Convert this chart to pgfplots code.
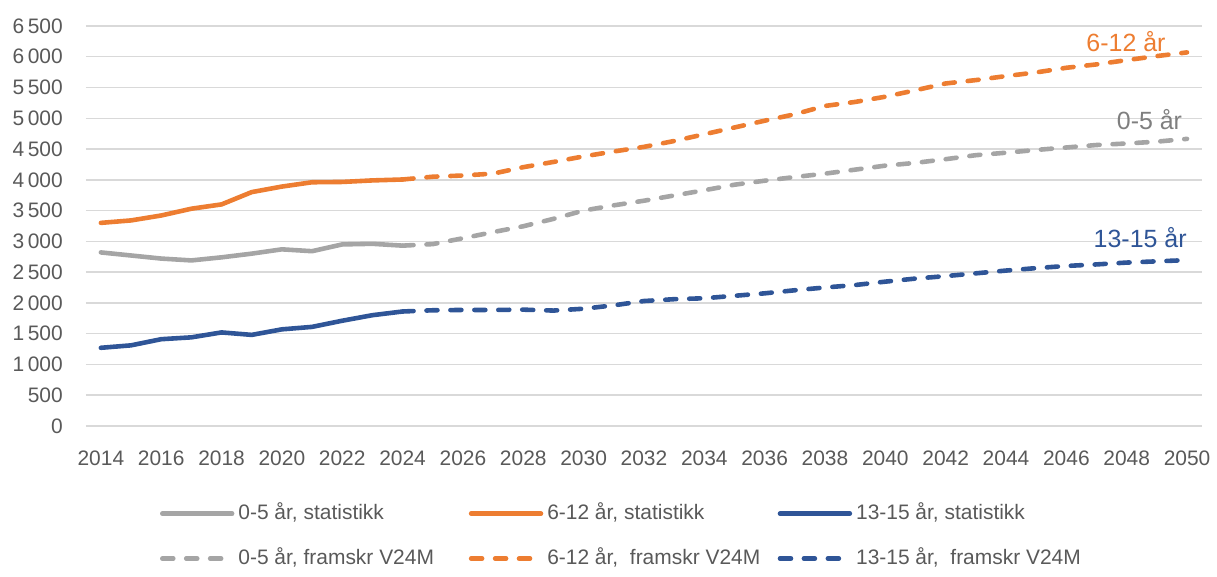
\documentclass[border=0pt]{standalone}
\usepackage{fontspec}
\setmainfont{Liberation Sans}
\usepackage{pgfplots}
\pgfplotsset{compat=1.18}
\definecolor{cgray}{HTML}{A5A5A5}
\definecolor{corange}{HTML}{ED7D31}
\definecolor{cblue}{HTML}{2F5597}
\definecolor{ctext}{HTML}{595959}
\definecolor{cgrid}{HTML}{D9D9D9}
\definecolor{clabgray}{HTML}{7F7F7F}
\begin{document}
\begin{tikzpicture}
\begin{axis}[
  scale only axis,
  width=559.5pt, height=200.5pt,
  xmin=2013.5, xmax=2050.5,
  ymin=0, ymax=6500,
  xtick={2014,2016,...,2050},
  ytick={0,500,...,6500},
  ymajorgrids,
  grid style={cgrid, line width=0.75pt},
  axis line style={draw=none},
  tick style={draw=none},
  /pgf/number format/assume math mode=true,
  ticklabel style={font=\fontsize{10.5}{12.6}\selectfont, text=ctext},
  xticklabel style={/pgf/number format/1000 sep={}, yshift=-9pt},
  yticklabel style={/pgf/number format/1000 sep={\,}, xshift=-8pt},
  legend columns=3,
  legend image code/.code={\draw[#1] (0pt,0pt) -- (35pt,0pt);},
  legend style={draw=none, fill=none, at={(axis description cs:0,0)}, anchor=north west,
    xshift=34pt, yshift=-34.5pt, font=\fontsize{10.5}{12.6}\selectfont, text=ctext,
    column sep=0pt, row sep=8pt, nodes={text height=8pt, text depth=2.5pt}},
  legend cell align=left,
  every axis plot/.append style={line width=2.3pt, line join=round, line cap=round},
]
\addplot[cgray] coordinates {(2014,2820)(2015,2770)(2016,2720)(2017,2690)(2018,2740)(2019,2800)(2020,2870)(2021,2840)(2022,2950)(2023,2960)(2024,2930)};
\addlegendentry{\makebox[113.5pt][l]{0-5 år, statistikk}}
\addplot[corange] coordinates {(2014,3300)(2015,3340)(2016,3420)(2017,3530)(2018,3600)(2019,3800)(2020,3890)(2021,3960)(2022,3965)(2023,3990)(2024,4005)};
\addlegendentry{\makebox[113.5pt][l]{6-12 år, statistikk}}
\addplot[cblue] coordinates {(2014,1270)(2015,1310)(2016,1410)(2017,1440)(2018,1520)(2019,1480)(2020,1570)(2021,1610)(2022,1710)(2023,1800)(2024,1860)};
\addlegendentry{\makebox[113.5pt][l]{13-15 år, statistikk}}
\addplot[cgray, dash pattern=on 5.5pt off 6.5pt] coordinates {(2024,2930)(2025,2955)(2026,3050)(2027,3150)(2028,3245)(2029,3365)(2030,3500)(2031,3585)(2032,3660)(2033,3745)(2034,3830)(2035,3920)(2036,3985)(2037,4045)(2038,4100)(2039,4165)(2040,4230)(2041,4275)(2042,4335)(2043,4400)(2044,4440)(2045,4485)(2046,4525)(2047,4565)(2048,4590)(2049,4620)(2050,4665)};
\addlegendentry{\makebox[113.5pt][l]{0-5 år, framskr V24M}}
\addplot[corange, dash pattern=on 5.5pt off 6.5pt] coordinates {(2024,4005)(2025,4050)(2026,4070)(2027,4100)(2028,4205)(2029,4290)(2030,4380)(2031,4460)(2032,4535)(2033,4630)(2034,4740)(2035,4850)(2036,4960)(2037,5065)(2038,5200)(2039,5265)(2040,5350)(2041,5455)(2042,5565)(2043,5620)(2044,5685)(2045,5745)(2046,5820)(2047,5875)(2048,5945)(2049,6010)(2050,6070)};
\addlegendentry{\makebox[113.5pt][l]{6-12 år,\ \ framskr V24M}}
\addplot[cblue, dash pattern=on 5.5pt off 6.5pt] coordinates {(2024,1860)(2025,1880)(2026,1885)(2027,1885)(2028,1890)(2029,1875)(2030,1905)(2031,1960)(2032,2030)(2033,2060)(2034,2075)(2035,2115)(2036,2155)(2037,2205)(2038,2250)(2039,2290)(2040,2345)(2041,2395)(2042,2435)(2043,2480)(2044,2525)(2045,2565)(2046,2600)(2047,2625)(2048,2655)(2049,2675)(2050,2695)};
\addlegendentry{\makebox[113.5pt][l]{13-15 år,\ \ framskr V24M}}
\node[anchor=base east, text=corange, font=\fontsize{12.5}{15}\selectfont, inner sep=0pt] at (axis cs:2049.3,6079) {6-12 år};
\node[anchor=base east, text=clabgray, font=\fontsize{12.5}{15}\selectfont, inner sep=0pt] at (axis cs:2049.85,4814) {0-5 år};
\node[anchor=base east, text=cblue, font=\fontsize{12.5}{15}\selectfont, inner sep=0pt] at (axis cs:2050.0,2902) {13-15 år};
\end{axis}
\path ([shift={(-43pt,-69.5pt)}]current axis.south west) rectangle ([shift={(565.5pt,213.5pt)}]current axis.south west);
\end{tikzpicture}
\end{document}
